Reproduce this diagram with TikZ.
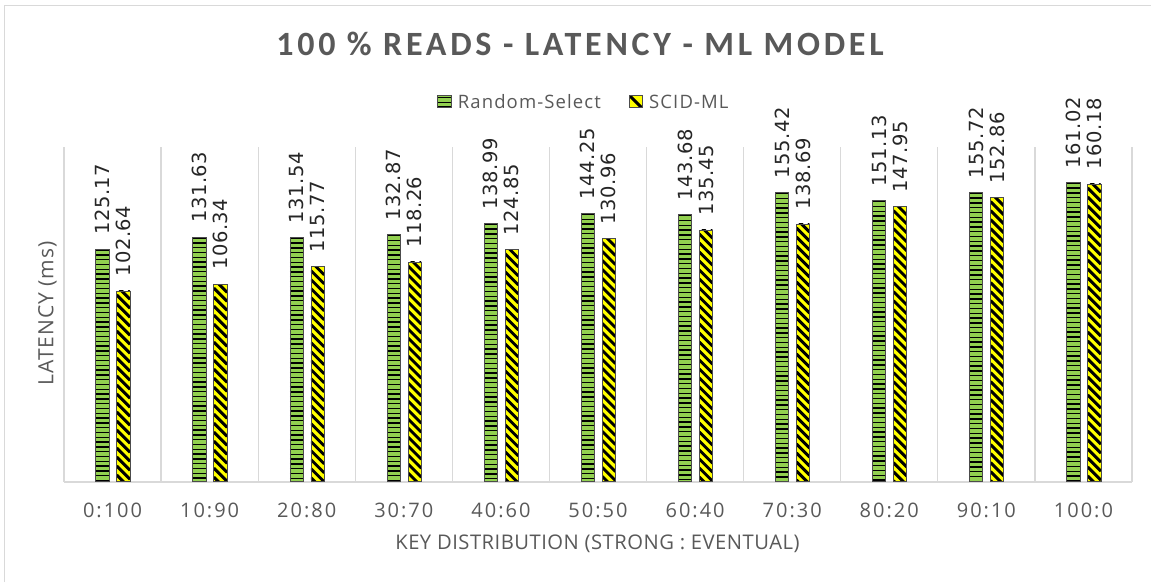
\documentclass[tikz,border=0pt]{standalone}
\usepackage{fontspec}
\setmainfont{Open Sans}
\newfontfamily\titlefont[LetterSpace=11]{Carlito}
\newfontfamily\numfont[LetterSpace=3]{DejaVu Sans}
\newfontfamily\tickfont[LetterSpace=10]{Open Sans}
\newfontfamily\legfont[LetterSpace=6]{Open Sans}
\newfontfamily\xtfont[LetterSpace=2.5]{Open Sans}
\newfontfamily\ytfont[LetterSpace=4.5]{Open Sans}
\definecolor{txt}{HTML}{595959}
\definecolor{gridc}{HTML}{D9D9D9}
\definecolor{gfill}{HTML}{92D050}
\definecolor{yfill}{HTML}{FFFF00}
\begin{document}
\begin{tikzpicture}[x=1pt,y=-1pt,
  frame/.style={draw=gridc,line width=1.3pt},
  gridl/.style={draw=gridc,line width=1.3pt},
  bedge/.style={draw=black!70,line width=0.8pt},
  gstripe/.style={draw=black,line width=1.4pt},
  ystripe/.style={draw=black,line width=2.9pt},
  barlab/.style={rotate=90,anchor=west,inner sep=0pt,text=black!85,font=\numfont\fontsize{19.5}{22}\selectfont},
  ticklab/.style={inner sep=0pt,text=txt,font=\tickfont\fontsize{20}{24}\selectfont},
  legtxt/.style={inner sep=0pt,anchor=west,text=txt,font=\legfont\fontsize{18.5}{22}\selectfont},
  ttl/.style={inner sep=0pt,text=txt,font=\titlefont\bfseries\fontsize{34}{40}\selectfont}]
\useasboundingbox (0,0) rectangle (1151,582);
\fill[white] (0,0) rectangle (1151,582);
\draw[frame] (4.5,582) -- (4.5,5.5) -- (1151,5.5);
% title
\node[ttl] (title) at (580,44) {100 \% READS - LATENCY - ML MODEL};
% legend swatches
\node[minimum width=13.3pt,minimum height=11pt,inner sep=0pt,fill=gfill] (sw1) at (444.3,101.5) {};
\begin{scope}
  \clip (sw1.south west) rectangle (sw1.north east);
  \foreach \yy in {97.5,102.3,107.1} \draw[gstripe] (437,\yy) -- (452,\yy);
\end{scope}
\draw[bedge] (sw1.south west) rectangle (sw1.north east);
\node[legtxt] (l1) at (457.7,101.5) {Random-Select};
\node[minimum width=12.7pt,minimum height=11pt,inner sep=0pt,fill=yfill] (sw2) at (636.3,101.5) {};
\begin{scope}
  \clip (sw2.south west) rectangle (sw2.north east);
  \draw[ystripe] (628,94) -- (646,112);
\end{scope}
\draw[bedge] (sw2.south west) rectangle (sw2.north east);
\node[legtxt] (l2) at (649,101.5) {SCID-ML};
% grid
\foreach \k in {0,...,11} {
  \draw[gridl] ({64+97.09*\k},147) -- ({64+97.09*\k},482);
}
\draw[gridl] (64,482) -- (1132,482);
% bars
\foreach \g/\s/\lab [count=\i from 0] in {125.17/102.64/0:100,131.63/106.34/10:90,131.54/115.77/20:80,132.87/118.26/30:70,138.99/124.85/40:60,144.25/130.96/50:50,143.68/135.45/60:40,155.42/138.69/70:30,151.13/147.95/80:20,155.72/152.86/90:10,161.02/160.18/100:0} {
  \pgfmathsetmacro\c{64+97.09*(\i+0.5)}
  \pgfmathsetmacro\gt{482-1.861*\g}
  \pgfmathsetmacro\st{482-1.861*\s}
  \pgfmathtruncatemacro\ng{(482-\gt)/4.8}
  \pgfmathtruncatemacro\ny{(482-\st)/9+2}
  % green bar
  \fill[gfill] (\c-16.8,481.5) rectangle (\c-3.5,\gt);
  \begin{scope}
    \clip (\c-16.8,481.5) rectangle (\c-3.5,\gt);
    \foreach \k in {0,...,\ng} \draw[gstripe] (\c-17,{\gt+1+4.8*\k}) -- (\c-3,{\gt+1+4.8*\k});
  \end{scope}
  \draw[bedge] (\c-16.8,481.5) rectangle (\c-3.5,\gt);
  % yellow bar
  \fill[yfill] (\c+4.2,481.5) rectangle (\c+17.5,\st);
  \begin{scope}
    \clip (\c+4.2,481.5) rectangle (\c+17.5,\st);
    \foreach \k in {0,...,\ny} \draw[ystripe] (\c+4.2,{\st-14+9*\k}) -- (\c+17.5,{\st-0.7+9*\k});
  \end{scope}
  \draw[bedge] (\c+4.2,481.5) rectangle (\c+17.5,\st);
  % labels
  \node[barlab] (gl\i) at (\c-10.15,\gt-14) {\g};
  \node[barlab] (yl\i) at (\c+10.85,\st-14) {\s};
  \node[ticklab] (t\i) at (\c,510.5) {\lab};
}
% axis titles
\node[inner sep=0pt,text=txt,font=\xtfont\fontsize{20.2}{24}\selectfont] (xt) at (597.5,543.7) {KEY DISTRIBUTION (STRONG : EVENTUAL)};
\node[inner sep=0pt,text=txt,rotate=90,font=\ytfont\fontsize{21}{25}\selectfont] (yt) at (47.5,313.5) {LATENCY (ms)};
\end{tikzpicture}
\end{document}
